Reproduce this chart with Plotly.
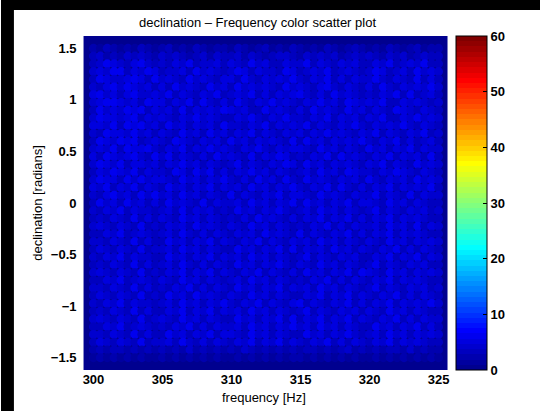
import numpy as np
import plotly.graph_objects as go

W, H = 542, 411

# frequency grid [Hz] and declination grid [rad]
freq_start, freq_stop, freq_step = 300.0, 325.0, 0.5
dec_start, dec_stop, dec_step = 1.5, -1.5, -0.075

# power per (declination row, frequency column); top row = +1.5 rad
power_rows = [
    "2132121321 2312132122 1321231213 2121321232 1213212312 2",
    "3423243432 4343234243 3424323443 2434342343 4324342343 3",
    "3465435643 4354634453 5436453354 4635435453 3546345463 3",
    "4546635465 3445364543 4653544365 3454634543 4653453645 4",
    "3654456536 4543645435 5364354546 4354635354 4643543635 3",
    "4356465453 5364543645 3645454364 5435643543 5364354546 4",
    "5645356445 4635435463 4546353545 6435364543 4354636345 3",
    "4566545365 5354636435 3643546454 3546453654 5463354543 4",
    "3645465635 4536354546 5453364543 5364543645 3543654354 3",
    "4655456354 5435464543 3546435464 4354635453 5463354645 4",
    "5546365645 3645354536 4435463545 4635435464 3545464354 3",
    "4365546453 5436453645 3546354354 5354645435 4635435463 4",
    "3654656345 4365435453 6453545436 3645354546 4354635345 3",
    "4546365564 3546354645 4354643545 5436453543 6453546354 4",
    "5365456436 4635435364 5436354653 4354636454 3546354536 3",
    "4654635545 3546453543 4635435465 3645354543 5463543645 4",
    "3546546354 4365364635 3546453543 4536453654 4354654354 3",
    "4655364645 5436453546 4353645364 3645435453 6435453645 4",
    "5463546354 3645354635 4536453546 4354636435 3546354546 3",
    "4356453646 4536453543 6354354635 5436454354 4635436354 4",
    "3645364535 3645436354 4536453546 3645354635 5436453543 3",
    "4354635443 4536354534 3645354643 4536453543 4635435453 4",
    "3435436353 5436453543 4353645435 3546354635 3546354543 3",
    "4543543634 3545364543 5436453543 4354635354 4536453635 4",
    "3354634543 4536435354 3545364543 6354354635 3546354543 3",
    "4435436353 3645354635 4354635435 4536453543 5436453545 4",
    "3543543634 4536453543 3645354636 3545364535 4354635354 3",
    "4354635443 3645354635 4536453543 4635435453 3546354635 4",
    "3435436353 4536435354 3645354643 5436453543 4635435453 3",
    "4543543634 3546354635 4354635435 3645354636 5436453545 4",
    "3354634543 5436453543 4536453543 4354635354 3546354543 3",
    "4435436353 4354635354 3645354635 4536453543 4635435453 4",
    "3543543634 3645364543 5436453543 3546354635 4354635354 3",
    "4354635443 4536453546 4354635435 6354354635 3546354546 4",
    "3435436353 3546354635 4536453543 4635435453 5436453543 3",
    "4543543634 5436453543 3645354636 3546354635 4354635354 4",
    "3354634543 4354635354 4536453546 4536453543 3645354635 3",
    "4435436353 3645354635 5436453543 3645354643 4536453545 4",
    "3543543634 4536435354 3546354635 4354635354 3546354543 3",
    "2323323232 3232423232 3243232323 2332323423 2323324232 2",
    "1212121211 2121212121 1212121212 2121212121 1212121212 1",
]

x_ticks = [300, 305, 310, 315, 320, 325]
y_ticks = [-1.5, -1, -0.5, 0, 0.5, 1, 1.5]
y_tick_text = ["\u22121.5", "\u22121", "\u22120.5", "0", "0.5", "1", "1.5"]
cbar_ticks = [0, 10, 20, 30, 40, 50, 60]

freqs = np.arange(freq_start, freq_stop + freq_step / 2, freq_step)
decs = np.arange(dec_start, dec_stop + dec_step / 2, dec_step)
grid = [[int(c) for c in row.replace(" ", "")] for row in power_rows]
assert all(len(r) == len(freqs) for r in grid), [len(r) for r in grid]
assert len(grid) == len(decs)

fx, fy, fz = [], [], []
for i, d in enumerate(decs):
    for j, f in enumerate(freqs):
        fx.append(f)
        fy.append(d)
        fz.append(grid[i][j])


def jet(m=64):
    n = int(np.ceil(m / 4))
    u = np.concatenate([np.arange(1, n + 1) / n, np.ones(n - 1), np.arange(n, 0, -1) / n])
    g = int(np.ceil(n / 2)) - (1 if m % 4 == 1 else 0) + np.arange(1, len(u) + 1)
    r = g + n
    b = g - n
    J = np.zeros((m, 3))
    J[r[r <= m] - 1, 0] = u[r <= m]
    J[g[g <= m] - 1, 1] = u[g <= m]
    J[b[b >= 1] - 1, 2] = u[b >= 1]
    return J


J = jet(64)
cscale = []
for k, c in enumerate(J):
    col = "rgb(%d,%d,%d)" % tuple(np.round(c * 255))
    cscale.append([k / 64, col])
    cscale.append([(k + 1) / 64, col])

px0, px1 = 83, 449
py0, py1 = 36, 370

fig = go.Figure()
fig.add_trace(go.Scatter(
    x=fx, y=fy, mode="markers",
    marker=dict(
        size=9, color=fz, colorscale=cscale, cmin=0, cmax=60,
        line=dict(width=0),
        colorbar=dict(
            x=458 / W, xanchor="left", xpad=0, ypad=0,
            y=1 - (py0 + py1) / 2 / H, yanchor="middle",
            len=(py1 - py0) / H, lenmode="fraction",
            thickness=31, thicknessmode="pixels",
            outlinecolor="black", outlinewidth=1,
            tickvals=cbar_ticks, ticks="inside", ticklen=4, tickcolor="black",
            tickfont=dict(family="Liberation Sans", size=13, color="black", weight="bold"),
        ),
    ),
    hoverinfo="skip", showlegend=False,
))

tickfont = dict(family="Liberation Sans", size=13, color="black", weight="bold")
fig.update_layout(
    width=W, height=H,
    margin=dict(l=0, r=0, t=0, b=0),
    paper_bgcolor="white",
    plot_bgcolor="rgb(0,0,143)",
    xaxis=dict(
        domain=[px0 / W, px1 / W], range=[299.28, 325.65],
        tickvals=x_ticks, ticks="", showgrid=False, zeroline=False, showline=False,
        tickfont=tickfont, ticklabelstandoff=0,
    ),
    yaxis=dict(
        domain=[1 - py1 / H, 1 - py0 / H], range=[-1.62, 1.62],
        tickvals=y_ticks, ticktext=y_tick_text, ticks="", showgrid=False,
        zeroline=False, showline=False, tickfont=tickfont, ticklabelstandoff=6,
    ),
    shapes=[
        dict(type="rect", xref="paper", yref="paper", x0=0, x1=13 / W, y0=0, y1=1,
             fillcolor="black", line=dict(width=0), layer="below"),
        dict(type="rect", xref="paper", yref="paper", x0=0, x1=1, y0=1 - 10 / H, y1=1,
             fillcolor="black", line=dict(width=0), layer="below"),
    ],
    annotations=[
        dict(text="declination \u2013 Frequency color scatter plot", xref="paper", yref="paper",
             x=258 / W, y=1 - 22 / H, showarrow=False, xanchor="center", yanchor="middle",
             font=dict(family="Liberation Sans", size=13, color="black")),
        dict(text="frequency [Hz]", xref="paper", yref="paper",
             x=264 / W, y=1 - 397 / H, showarrow=False, xanchor="center", yanchor="middle",
             font=dict(family="Liberation Sans", size=13, color="black")),
        dict(text="declination [radians]", xref="paper", yref="paper", textangle=-90,
             x=37 / W, y=1 - 203 / H, showarrow=False, xanchor="center", yanchor="middle",
             font=dict(family="Liberation Sans", size=13, color="black")),
    ],
)

fig.write_html("out.html")
